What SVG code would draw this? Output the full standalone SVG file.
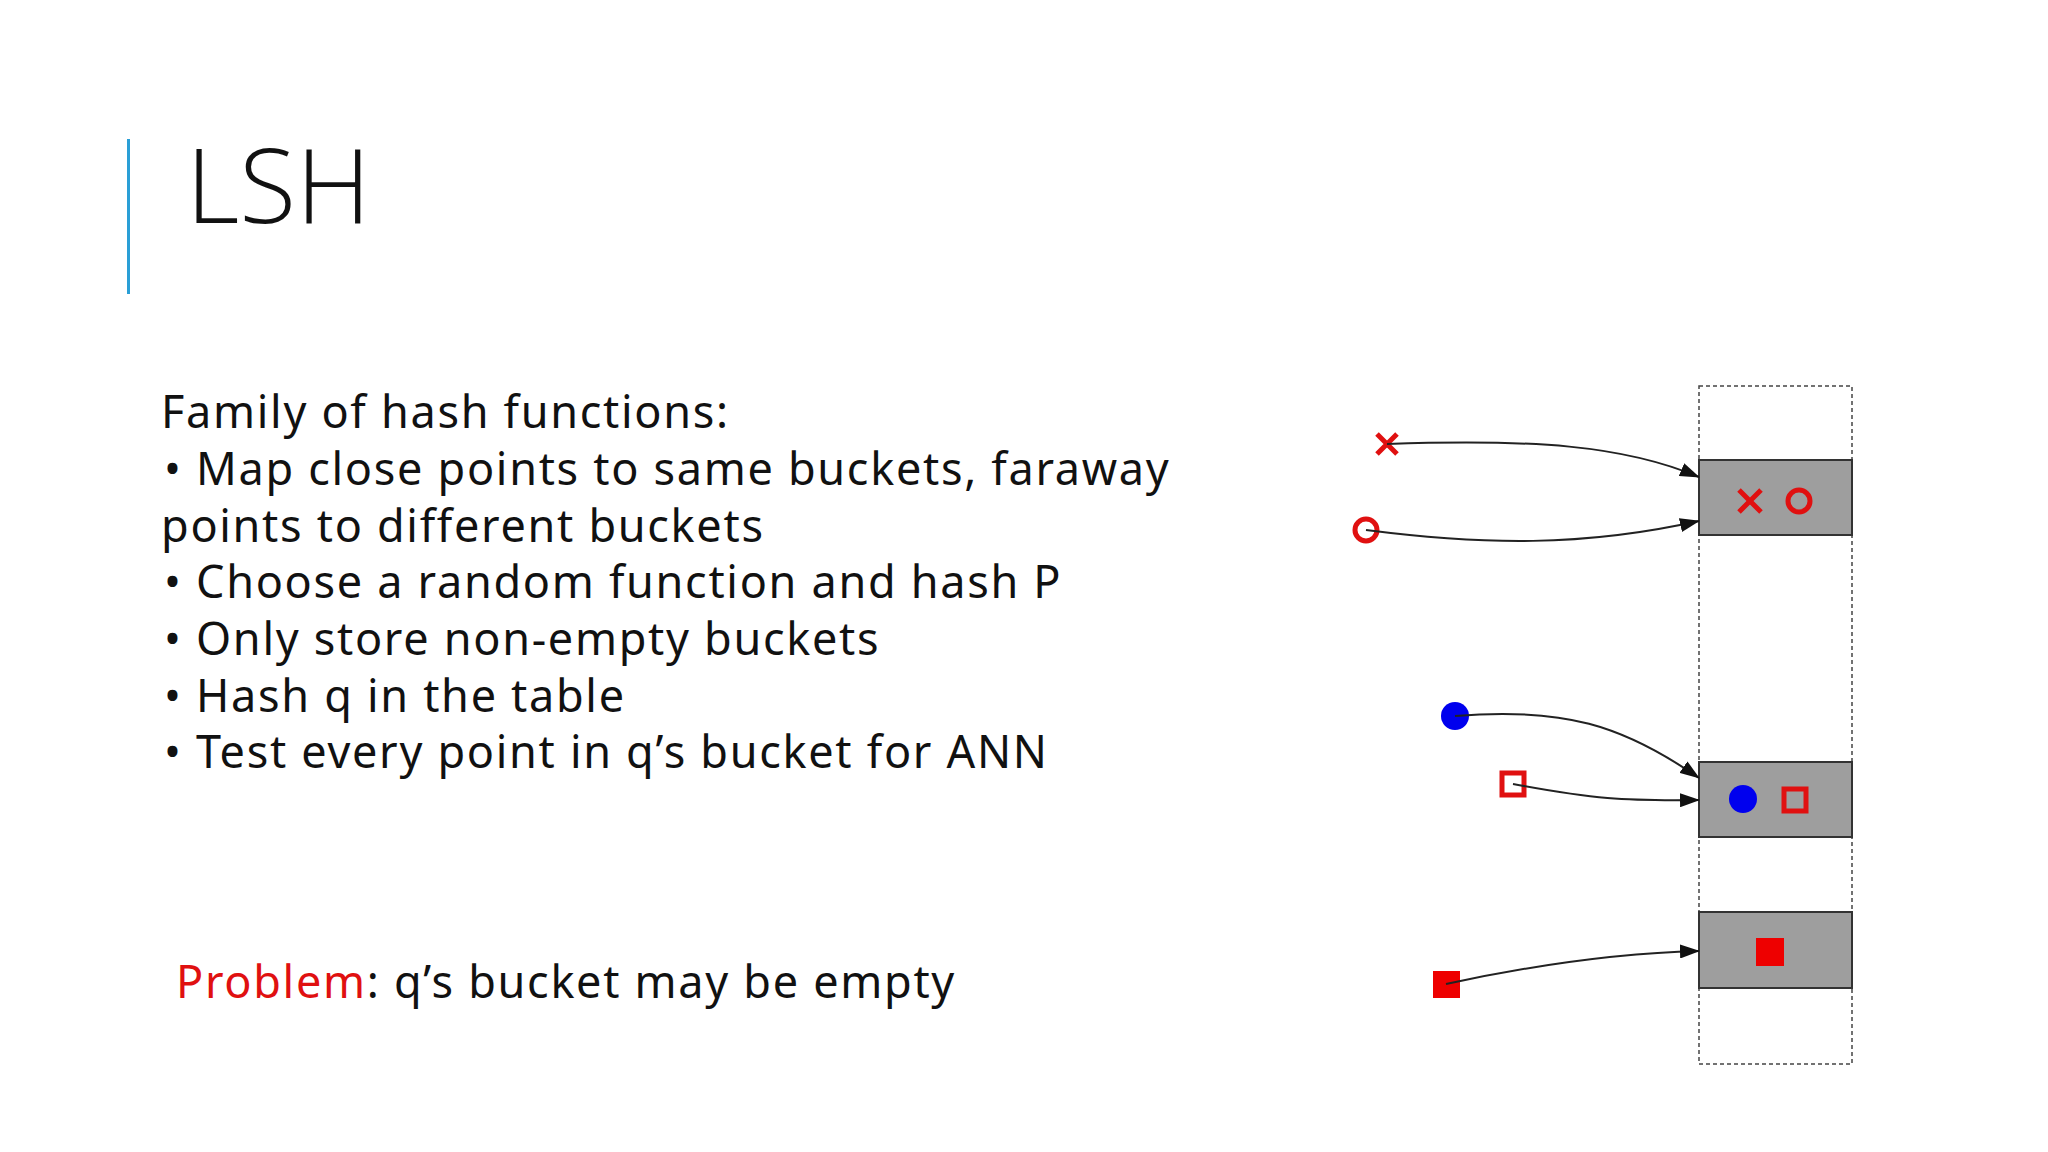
<svg xmlns="http://www.w3.org/2000/svg" width="2048" height="1152" viewBox="0 0 2048 1152">
<style>
.t{font-family:"Noto Sans","DejaVu Sans",sans-serif;font-size:45px;fill:#111;letter-spacing:1.7px}
.box{fill:#9e9e9e;stroke:#333;stroke-width:2}
.c{fill:none;stroke:#222;stroke-width:2}
.red{fill:none;stroke:#e01010;stroke-width:5}
</style>
<defs><marker id="a" markerWidth="20" markerHeight="14" refX="19" refY="7" orient="auto" markerUnits="userSpaceOnUse" viewBox="0 0 20 14"><path d="M0,0L20,7L0,14z" fill="#111"/></marker></defs>
<rect width="2048" height="1152" fill="#fff"/>
<rect x="127" y="139" width="3" height="155" fill="#2a9fd6"/>
<text x="186" y="223" font-family="'Open Sans',sans-serif" font-weight="300" font-size="104" fill="#111">LSH</text>
<g id="text">
<text class="t" x="161" y="428">Family of hash functions:</text>
<text class="t" x="164" y="485">• Map close points to same buckets, faraway</text>
<text class="t" x="161" y="542">points to different buckets</text>
<text class="t" x="164" y="598">• Choose a random function and hash P</text>
<text class="t" x="164" y="655">• Only store non-empty buckets</text>
<text class="t" x="164" y="712">• Hash q in the table</text>
<text class="t" x="164" y="768">• Test every point in q’s bucket for ANN</text>
<text class="t" x="176" y="998"><tspan fill="#e01010">Problem</tspan>: q’s bucket may be empty</text>
</g>
<g transform="translate(-17,-5)">
<g id="table"><rect x="1716" y="391" width="153" height="678" fill="none" stroke="#444" stroke-width="1.5" stroke-dasharray="4,3"/></g>
<g id="bucket1"><rect class="box" x="1716" y="465" width="153" height="75"/>
<path class="red" d="M1756,495l22,22M1778,495l-22,22"/><circle class="red" cx="1816" cy="506" r="11"/></g>
<g id="bucket2"><rect class="box" x="1716" y="767" width="153" height="75"/>
<circle cx="1760" cy="804" r="14" fill="#0000ee"/><rect class="red" x="1801" y="794" width="22" height="22"/></g>
<g id="bucket3"><rect class="box" x="1716" y="917" width="153" height="76"/>
<rect x="1773" y="943" width="28" height="28" fill="#ee0000"/></g>
<g id="points">
<path class="red" d="M1394,439l20,20M1414,439l-20,20"/>
<circle class="red" cx="1383" cy="535" r="11"/>
<circle cx="1472" cy="721" r="14" fill="#0000ee"/>
<rect class="red" x="1519" y="778" width="22" height="22"/>
<rect x="1450" y="976" width="27" height="27" fill="#ee0000"/>
</g>
<g id="connectors">
<path class="c" marker-end="url(#a)" d="M1404,449C1550,444 1640,450 1716,482"/>
<path class="c" marker-end="url(#a)" d="M1383,535C1500,550 1600,552 1716,526"/>
<path class="c" marker-end="url(#a)" d="M1472,721C1580,712 1640,730 1716,783"/>
<path class="c" marker-end="url(#a)" d="M1530,789C1610,804 1640,806 1716,805"/>
<path class="c" marker-end="url(#a)" d="M1463,989C1560,968 1640,958 1716,956"/>
</g>
</g>
</svg>
